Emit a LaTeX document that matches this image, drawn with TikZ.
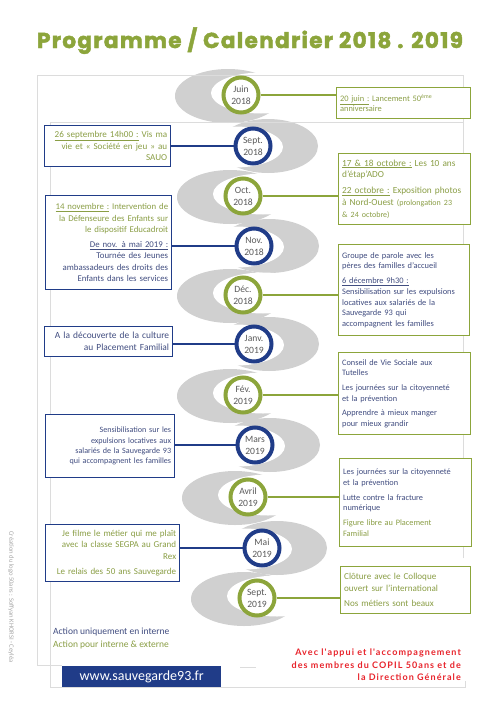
\documentclass[tikz,border=0pt]{standalone}
\usepackage{fontspec}
\setmainfont{Carlito}
\newfontfamily\titlefont{Poppins}[LetterSpace=6,FakeBold=2]
\newfontfamily\redfont{Lato}[LetterSpace=12]
\definecolor{cgreen}{HTML}{8CA53B}
\definecolor{cnavy}{HTML}{203C88}
\definecolor{tgreen}{HTML}{8A9E45}
\definecolor{tnavy}{HTML}{414D80}
\definecolor{ctext}{HTML}{5A5A5A}
\definecolor{swoosh}{HTML}{D0D0D0}
\definecolor{framec}{HTML}{DCDCDC}
\definecolor{cred}{HTML}{E8232B}
\newcommand\fs[1]{\fontsize{#1}{1.28\dimexpr#1pt\relax}\selectfont}
\newcommand\circf{\fontsize{9.6}{12}\selectfont}
\begin{document}
\begin{tikzpicture}[x=1pt,y=-1pt,
  boxbase/.style={draw, line width=1.3pt, fill=white, anchor=north west, inner xsep=3.5pt, inner ysep=2pt},
  lbox/.style={boxbase, draw=cnavy, align=right},
  rbox/.style={boxbase, draw=cgreen, align=left},
  circ/.style={circle, draw, line width=4pt, fill=white, minimum size=35pt, inner sep=0pt, align=center, font=\circf, text=ctext},
  gcirc/.style={circ, draw=cgreen},
  bcirc/.style={circ, draw=cnavy},
  gline/.style={draw=cgreen, line width=1.3pt},
  bline/.style={draw=cnavy, line width=1.3pt},
  framel/.style={draw=framec, line width=0.8pt}]
\useasboundingbox (0,0) rectangle (500,707);
\fill[white] (0,0) rectangle (500,707);
% ribbon: grey bands, then white holes round the circles
\foreach \cx/\cy in {241/95, 243/196, 243/295, 243/395, 248/497, 257/598}{
  \fill[swoosh] (\cx-13,\cy+1) ellipse [x radius=53, y radius=27];
}
\foreach \cx/\cy in {253/146, 254/246, 254/344, 255/445, 262/548}{
  \fill[swoosh] (\cx+15,\cy) ellipse [x radius=50, y radius=27];
}
\foreach \cx/\cy in {241/95, 243/196, 243/295, 243/395, 248/497, 257/598}{
  \fill[white] (\cx+20,\cy-2) ellipse [x radius=50, y radius=20.5];
}
\foreach \cx/\cy in {253/146, 254/246, 254/344, 255/445, 262/548}{
  \fill[white] (\cx-18,\cy+1) ellipse [x radius=48, y radius=20.5];
}
% frames
\draw[framel] (463,558) -- (463,75) -- (37,75) -- (37,665) -- (62,665);
\draw[framel] (240,667) -- (256,667);
\draw[framel] (463,122) -- (50,122) -- (50,687) -- (465,687) -- (465,681);
% title
\node[anchor=base, text=cgreen, inner sep=0pt] (title) at (250,48)
  {\resizebox{426pt}{!}{\titlefont\bfseries Programme / Calendrier 2018 . 2019}};
% circles
\node[gcirc] (c1) at (241,95) {Juin\\2018};
\node[bcirc] (c2) at (253,146) {Sept.\\2018};
\node[gcirc] (c3) at (243,196) {Oct.\\2018};
\node[bcirc] (c4) at (254,246) {Nov.\\2018};
\node[gcirc] (c5) at (243,295) {Déc.\\2018};
\node[bcirc] (c6) at (254,344) {Janv.\\2019};
\node[gcirc] (c7) at (243,395) {Fév.\\2019};
\node[bcirc] (c8) at (255,445) {Mars\\2019};
\node[gcirc] (c9) at (248,497) {Avril\\2019};
\node[bcirc] (c10) at (262,548) {Mai\\2019};
\node[gcirc] (c11) at (257,598) {Sept.\\2019};
% left boxes
\node[lbox, text=tgreen, font=\fs{9.1}, text width=119pt, minimum height=41pt] (l1) at (44,125)
  {\underline{26 septembre 14h00 :} Vis ma\\vie et « Société en jeu » au\\SAUO};
\node[lbox, text=tgreen, font=\fs{8.8}, text width=119pt, minimum height=94pt] (l2) at (45,195)
  {\underline{14 novembre :} Intervention de\\la Défenseure des Enfants sur\\le dispositif Educadroit\\[4pt]
   \color{tnavy}\underline{De nov. à mai 2019 :}\\Tournée des Jeunes\\ambassadeurs des droits des\\Enfants dans les services};
\node[lbox, text=tnavy, font=\fs{9.4}, text width=121pt, minimum height=30pt] (l3) at (44,326)
  {A la découverte de la culture\\au Placement Familial};
\node[lbox, text=tnavy, font=\fs{8.1}, text width=122pt, minimum height=63pt] (l4) at (45,414)
  {Sensibilisation sur les\\expulsions locatives aux\\salariés de la Sauvegarde 93\\qui accompagnent les familles};
\node[lbox, text=tgreen, font=\fs{9.0}, text width=127pt, minimum height=57pt] (l5) at (45,524)
  {Je filme le métier qui me plaît\\avec la classe SEGPA au Grand\\Rex\\[4pt]Le relais des 50 ans Sauvegarde};
% right boxes
\node[rbox, text=tgreen, font=\fs{8.4}, text width=127pt, minimum height=31pt] (r1) at (336,87)
  {\underline{20 juin :} Lancement 50\textsuperscript{ème}\\anniversaire};
\node[rbox, text=tgreen, font=\fs{9.3}, text width=125pt, minimum height=71pt] (r2) at (338,153)
  {\underline{17 \& 18 octobre :} Les 10 ans\\d'étap'ADO\\[4pt]
   \underline{22 octobre :} Exposition photos\\à Nord-Ouest {\fontsize{8}{10}\selectfont(prolongation 23}\\{\fontsize{8}{10}\selectfont\& 24 octobre)}};
\node[rbox, text=tnavy, font=\fs{8.4}, text width=124pt, minimum height=91pt] (r3) at (338,244)
  {Groupe de parole avec les\\pères des familles d'accueil\\[4pt]
   \underline{6 décembre 9h30 :}\\Sensibilisation sur les expulsions\\locatives aux salariés de la\\Sauvegarde 93 qui\\accompagnent les familles};
\node[rbox, text=tnavy, font=\fs{8.3}, text width=125pt, minimum height=82pt] (r4) at (338,352)
  {Conseil de Vie Sociale aux\\Tutelles\\[4pt]Les journées sur la citoyenneté\\et la prévention\\[4pt]Apprendre à mieux manger\\pour mieux grandir};
\node[rbox, text=tnavy, font=\fs{8.3}, text width=125pt, minimum height=88pt] (r5) at (339,458)
  {Les journées sur la citoyenneté\\et la prévention\\[4pt]Lutte contre la fracture\\numérique\\[4pt]
   \color{tgreen}Figure libre au Placement\\Familial};
\node[rbox, text=tgreen, font=\fs{9.1}, text width=123pt, minimum height=47pt] (r6) at (340,566)
  {Clôture avec le Colloque\\ouvert sur l'international\\[4pt]Nos métiers sont beaux};
% connectors
\draw[gline] (c1.east) -- (c1 -| r1.west);
\draw[gline] (c3.east) -- (c3 -| r2.west);
\draw[gline] (c5.east) -- (c5 -| r3.west);
\draw[gline] (c7.east) -- (c7 -| r4.west);
\draw[gline] (c9.east) -- (c9 -| r5.west);
\draw[gline] (c11.east) -- (c11 -| r6.west);
\draw[bline] (c2.west) -- (c2 -| l1.east);
\draw[bline] (c4.west) -- (c4 -| l2.east);
\draw[bline] (c6.west) -- (c6 -| l3.east);
\draw[bline] (c8.west) -- (c8 -| l4.east);
\draw[bline] (c10.west) -- (c10 -| l5.east);
% legend
\node[anchor=base west, text=tnavy, font=\fontsize{9.5}{11}\selectfont, inner sep=0pt] (leg1) at (53,634) {Action uniquement en interne};
\node[anchor=base west, text=tgreen, font=\fontsize{9.5}{11}\selectfont, inner sep=0pt] (leg2) at (53,647) {Action pour interne \& externe};
% url
\node[fill=cnavy, text=white, anchor=north west, minimum width=159pt, minimum height=21pt, inner sep=0pt, font=\fontsize{14}{16}\selectfont] (url) at (62,666) {www.sauvegarde93.fr};
% red text
\node[anchor=north east, align=right, text=cred, inner sep=0pt, font=\redfont\bfseries\fontsize{9}{12.3}\selectfont] (copil) at (461,649)
  {Avec l'appui et l'accompagnement\\des membres du COPIL 50ans et de\\la Direction Générale};
% credits
\node[rotate=-90, text=gray!70, inner sep=0pt, font=\fontsize{6.6}{8}\selectfont] (credit) at (11,597)
  {Création du logo 50ans : Soffyan KHORSI - Ceyléa};
\end{tikzpicture}
\end{document}
